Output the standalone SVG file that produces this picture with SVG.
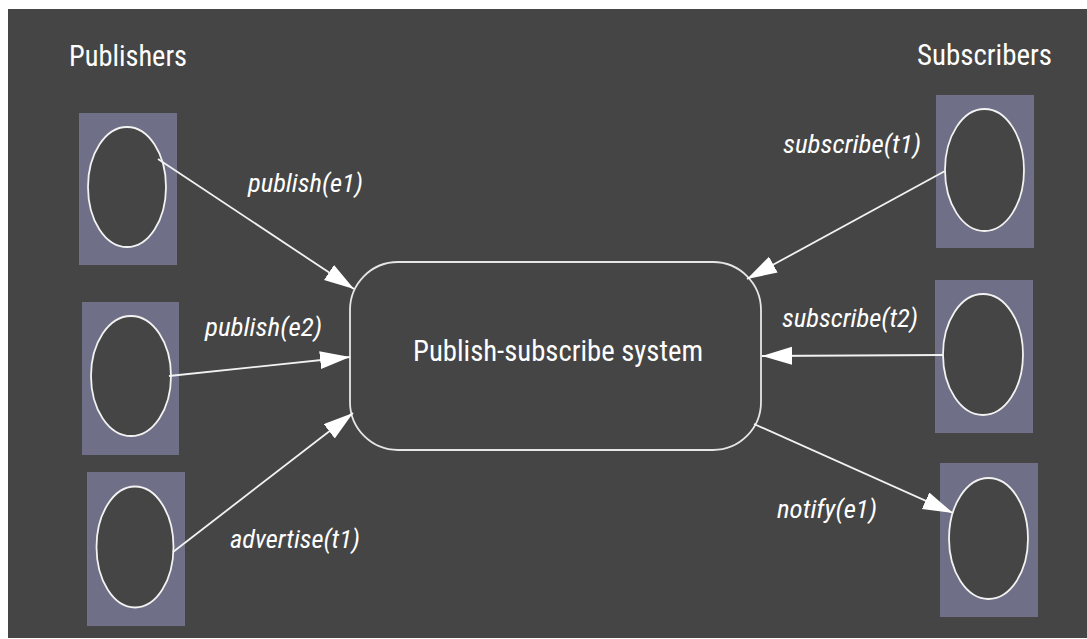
<svg xmlns="http://www.w3.org/2000/svg" width="1087" height="639" viewBox="0 0 1087 639">
<defs>
<style>
.bg{fill:#454545}
.box{fill:#6f6f87}
.ell{fill:#454545;stroke:#f2f2f2;stroke-width:1.8}
.sys{fill:#454545;stroke:#e6e6e6;stroke-width:1.8}
.conn{stroke:#f2f2f2;stroke-width:1.8;fill:none;marker-end:url(#arr)}
.title{font-family:"Liberation Sans Narrow","Roboto Condensed","Liberation Sans",sans-serif;font-size:29px;fill:#ffffff}
.lbl{font-family:"Liberation Sans Narrow","Roboto Condensed","Liberation Sans",sans-serif;font-size:25px;font-style:italic;fill:#ffffff}
</style>
<marker id="arr" markerUnits="userSpaceOnUse" markerWidth="32" markerHeight="20" refX="30" refY="9" orient="auto">
<path d="M0,0 L30,9 L0,18 z" fill="#ffffff"/>
</marker>
</defs>
<rect x="0" y="0" width="1087" height="639" fill="#ffffff"/>
<rect class="bg" x="8" y="9" width="1079" height="629"/>
<text class="title" x="69" y="66" textLength="118" lengthAdjust="spacingAndGlyphs">Publishers</text>
<text class="title" x="917" y="65" textLength="135" lengthAdjust="spacingAndGlyphs">Subscribers</text>
<g id="pub1"><rect class="box" x="79" y="113" width="98" height="152"/><ellipse class="ell" cx="127" cy="187" rx="39" ry="60"/></g>
<g id="pub2"><rect class="box" x="82" y="302" width="97" height="153"/><ellipse class="ell" cx="131" cy="376" rx="40" ry="60"/></g>
<g id="pub3"><rect class="box" x="87" y="472" width="98" height="154"/><ellipse class="ell" cx="135" cy="547" rx="38.5" ry="60.5"/></g>
<g id="sub1"><rect class="box" x="936" y="95" width="98" height="153"/><ellipse class="ell" cx="984.5" cy="170" rx="39.5" ry="61"/></g>
<g id="sub2"><rect class="box" x="935" y="280" width="98" height="153"/><ellipse class="ell" cx="983" cy="354.5" rx="40" ry="60.5"/></g>
<g id="sub3"><rect class="box" x="940" y="463" width="98" height="154"/><ellipse class="ell" cx="988.5" cy="538.5" rx="39.5" ry="60.5"/></g>
<g id="system"><rect class="sys" x="350" y="262" width="411" height="188" rx="48" ry="48"/>
<text class="title" x="413" y="361" textLength="290" lengthAdjust="spacingAndGlyphs">Publish-subscribe system</text></g>
<g id="connectors">
<line class="conn" x1="158" y1="159" x2="354" y2="289"/>
<line class="conn" x1="169" y1="376" x2="350" y2="357"/>
<line class="conn" x1="173" y1="552" x2="353" y2="413"/>
<line class="conn" x1="945" y1="171" x2="747" y2="279"/>
<line class="conn" x1="943" y1="355" x2="762" y2="356"/>
<line class="conn" x1="754" y1="424" x2="953" y2="513"/>
</g>
<g id="labels">
<text class="lbl" x="248" y="192" textLength="115" lengthAdjust="spacingAndGlyphs">publish(e1)</text>
<text class="lbl" x="205" y="336" textLength="117" lengthAdjust="spacingAndGlyphs">publish(e2)</text>
<text class="lbl" x="230" y="548" textLength="130" lengthAdjust="spacingAndGlyphs">advertise(t1)</text>
<text class="lbl" x="783" y="153" textLength="138" lengthAdjust="spacingAndGlyphs">subscribe(t1)</text>
<text class="lbl" x="782" y="327" textLength="136" lengthAdjust="spacingAndGlyphs">subscribe(t2)</text>
<text class="lbl" x="777" y="518" textLength="100" lengthAdjust="spacingAndGlyphs">notify(e1)</text>
</g>
</svg>
